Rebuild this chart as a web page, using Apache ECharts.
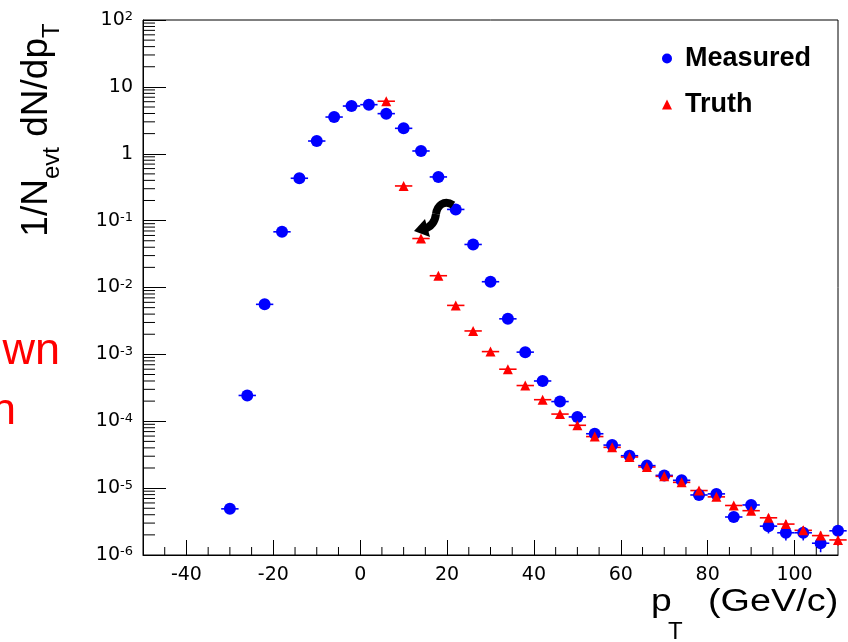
<!DOCTYPE html>
<html>
<head>
<meta charset="utf-8">
<script src="https://cdn.jsdelivr.net/npm/echarts@6/dist/echarts.min.js"></script>
<style>
html,body{margin:0;padding:0;background:#fff;}
#c{width:848px;height:642px;}
</style>
</head>
<body>
<div id="c"></div>
<script>
// ---- data ----
const measuredX = [-30,-26,-22,-18,-14,-10,-6,-2,2,6,10,14,18,22,26,30,34,38,42,46,50,54,58,62,66,70,74,78,82,86,90,94,98,102,106,110];
const measuredY = [4.9e-6,2.43e-4,5.6e-3,0.068,0.43,1.55,3.54,5.17,5.42,3.98,2.40,1.10,0.45,0.147,0.044,0.0122,3.4e-3,1.08e-3,4.0e-4,1.97e-4,1.16e-4,6.5e-5,4.4e-5,3.05e-5,2.17e-5,1.55e-5,1.31e-5,7.9e-6,8.2e-6,3.7e-6,5.6e-6,2.7e-6,2.15e-6,2.15e-6,1.5e-6,2.3e-6];
const measuredYErr = [0,0,0,0,0,0,0,0,0,0,0,0,0,0,0,0,0,0,0,0,0,0,0,0,0,0,0,0,0,0.6e-6,0.8e-6,0.6e-6,0.5e-6,0.5e-6,0.4e-6,0.5e-6];
const truthX = [6,10,14,18,22,26,30,34,38,42,46,50,54,58,62,66,70,74,78,82,86,90,94,98,102,106,110];
const truthY = [6.1,0.33,0.054,0.015,5.4e-3,2.24e-3,1.1e-3,6.0e-4,3.42e-4,2.1e-4,1.28e-4,8.7e-5,5.9e-5,4.07e-5,2.92e-5,2.07e-5,1.5e-5,1.22e-5,9.2e-6,7.4e-6,5.5e-6,4.6e-6,3.6e-6,2.9e-6,2.34e-6,1.95e-6,1.68e-6];
const truthYErr = [0,0,0,0,0,0,0,0,0,0,0,0,0,0,0,0,0,0,0,0,0,0,0.45e-6,0.4e-6,0.35e-6,0.3e-6,0.3e-6];
const binHalfWidth = 2;
const xMin = -50, xMax = 110;
const yMin = 1e-6, yMax = 1e2;
const yDecades = [-6,-5,-4,-3,-2,-1,0,1];
const yMinorMultipliers = [2,3,4,5,6,7,8,9];
const xMinorTicks = [-45,-35,-30,-25,-15,-10,-5,5,10,15,25,30,35,45,50,55,65,70,75,85,90,95,105];
const legendNames = ['Measured','Truth'];

const yMinorTicks = [];
yDecades.forEach(d => yMinorMultipliers.forEach(m => yMinorTicks.push(m * Math.pow(10, d))));

const chart = echarts.init(document.getElementById('c'), null, {renderer:'canvas'});

function errBar(color){
  return function(params, api){
    const x = api.value(0), y = api.value(1), e = api.value(2);
    const a = api.coord([x - binHalfWidth, y]);
    const b = api.coord([x + binHalfWidth, y]);
    const children = [{type:'line', shape:{x1:a[0],y1:a[1],x2:b[0],y2:b[1]}, style:{stroke:color,lineWidth:1.6}}];
    if (e > 0) {
      const lo = api.coord([x, Math.max(y - e, yMin)]);
      const hi = api.coord([x, y + e]);
      children.push({type:'line', shape:{x1:lo[0],y1:lo[1],x2:hi[0],y2:hi[1]}, style:{stroke:color,lineWidth:1.6}});
    }
    return {type:'group', children:children};
  };
}

const FONT = 'Liberation Sans';
const TICKFONT = 'DejaVu Sans';

chart.setOption({
  animation:false,
  backgroundColor:'#fff',
  grid:{left:143, right:10, top:20, bottom:87, show:true, borderColor:'#000', borderWidth:1, backgroundColor:'transparent'},
  legend:{
    data:legendNames, orient:'vertical', left:657, top:40, itemWidth:10, itemHeight:10, itemGap:19,
    textStyle:{fontSize:27, fontWeight:'bold', fontFamily:FONT, color:'#000', padding:[0,0,0,8]}
  },
  xAxis:{
    type:'value', min:xMin, max:xMax, splitNumber:8,
    axisLine:{onZero:false, lineStyle:{color:'#000',width:1}},
    axisTick:{inside:true, length:15, lineStyle:{color:'#000'}},
    axisLabel:{fontSize:19, fontFamily:TICKFONT, color:'#000', margin:11, showMinLabel:false, showMaxLabel:false},
    splitLine:{show:false}
  },
  yAxis:{
    type:'log', logBase:10, min:yMin, max:yMax, splitNumber:8,
    axisLine:{onZero:false, lineStyle:{color:'#000',width:1}},
    axisTick:{inside:true, length:23, lineStyle:{color:'#000'}},
    axisLabel:{
      fontSize:19, fontFamily:TICKFONT, color:'#000', margin:10,
      formatter:function(v){
        const e = Math.round(Math.log10(v));
        if (e === 0) return '1';
        if (e === 1) return '10';
        return '{b|10}{s|' + e + '}';
      },
      rich:{
        b:{fontSize:19, fontFamily:TICKFONT, color:'#000', lineHeight:19, verticalAlign:'bottom'},
        s:{fontSize:13, fontFamily:TICKFONT, color:'#000', lineHeight:13, verticalAlign:'top', padding:[0,0,8,0]}
      }
    },
    splitLine:{show:false}
  },
  series:[
    {name:'mErr', type:'custom', renderItem:errBar('#0000ff'), data:measuredX.map((x,i)=>[x,measuredY[i],measuredYErr[i]]), z:2, silent:true},
    {name:'tErr', type:'custom', renderItem:errBar('#ff0000'), data:truthX.map((x,i)=>[x,truthY[i],truthYErr[i]]), z:2, silent:true},
    {name:'Measured', type:'scatter', symbol:'circle', symbolSize:12, itemStyle:{color:'#0000ff', opacity:1}, data:measuredX.map((x,i)=>[x,measuredY[i]]), z:3},
    {name:'Truth', type:'scatter', symbol:'triangle', symbolSize:10, itemStyle:{color:'#ff0000', opacity:1}, data:truthX.map((x,i)=>[x,truthY[i]]), z:4},
    {name:'yMinor', type:'custom', silent:true, z:5, clip:false,
      data:yMinorTicks.map(v=>[xMin, v]),
      renderItem:function(params, api){
        const p = api.coord([api.value(0), api.value(1)]);
        return {type:'line', shape:{x1:p[0],y1:p[1],x2:p[0]+12,y2:p[1]}, style:{stroke:'#000',lineWidth:1}};
      }},
    {name:'xMinor', type:'custom', silent:true, z:5, clip:false,
      data:xMinorTicks.map(v=>[v, yMin]),
      renderItem:function(params, api){
        const p = api.coord([api.value(0), api.value(1)]);
        return {type:'line', shape:{x1:p[0],y1:p[1],x2:p[0],y2:p[1]-8}, style:{stroke:'#000',lineWidth:1}};
      }}
  ],
  graphic:[
    {type:'text', x:36.5, y:130, rotation:Math.PI/2,
      style:{text:'{m|1/N}{s|evt}{m| dN/dp}{s|T}', align:'center', verticalAlign:'middle',
        rich:{m:{fontSize:37, fontFamily:FONT, fill:'#000', lineHeight:56}, s:{fontSize:24, fontFamily:FONT, fill:'#000', lineHeight:24, verticalAlign:'bottom'}}}},
    {type:'text', x:651, y:602, scaleX:1.2, style:{text:'p', fontSize:31, fontFamily:FONT, fill:'#000', align:'left', verticalAlign:'middle'}},
    {type:'text', x:668, y:632, style:{text:'T', fontSize:24, fontFamily:FONT, fill:'#000', align:'left', verticalAlign:'middle'}},
    {type:'text', x:708, y:602, scaleX:1.22, style:{text:'(GeV/c)', fontSize:31, fontFamily:FONT, fill:'#000', align:'left', verticalAlign:'middle'}},
    {type:'text', x:60, y:352, style:{text:'wn', fontSize:45, fontFamily:FONT, fill:'#ff0000', align:'right', verticalAlign:'middle'}},
    {type:'text', x:16, y:412, style:{text:'n', fontSize:45, fontFamily:FONT, fill:'#ff0000', align:'right', verticalAlign:'middle'}},
    {type:'bezierCurve', z:10, shape:{x1:453,y1:205,cpx1:444,cpy1:199,cpx2:437,cpy2:206,x2:436,y2:214}, style:{fill:null, stroke:'#000', lineWidth:8}},
    {type:'bezierCurve', z:10, shape:{x1:436,y1:214,cpx1:435,cpy1:222,cpx2:431,cpy2:227,x2:424,y2:229}, style:{fill:null, stroke:'#000', lineWidth:8}},
    {type:'polygon', z:10, shape:{points:[[414,231],[425,219],[430,237]]}, style:{fill:'#000'}}
  ]
});
</script>
</body>
</html>
